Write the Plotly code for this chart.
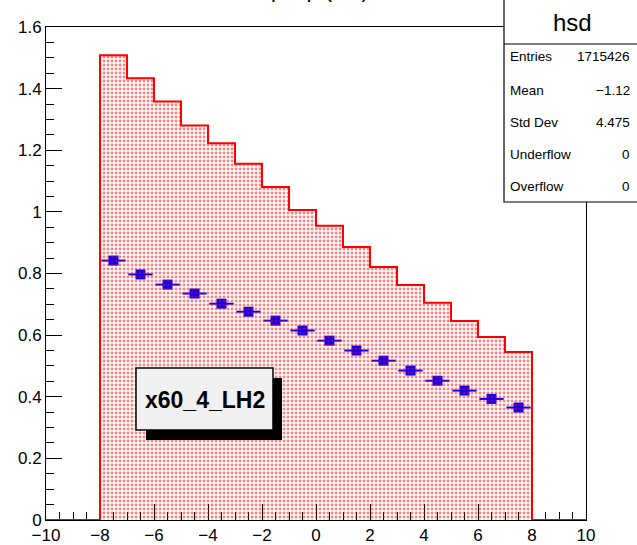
import numpy as np
import plotly.graph_objects as go

# ---- data ----
bin_edges = [-8, -7, -6, -5, -4, -3, -2, -1, 0, 1, 2, 3, 4, 5, 6, 7, 8]
hist_values = [1.508, 1.434, 1.358, 1.280, 1.223, 1.156, 1.081, 1.006,
               0.955, 0.886, 0.821, 0.763, 0.705, 0.646, 0.594, 0.545]
point_values = [0.842, 0.797, 0.764, 0.735, 0.702, 0.676, 0.647, 0.615,
                0.582, 0.550, 0.517, 0.485, 0.452, 0.420, 0.393, 0.365]
x_range = [-10, 10]
y_range = [0, 1.6]
stats_labels = ["Entries", "Mean", "Std Dev", "Underflow", "Overflow"]
stats_values = ["1715426", "\u22121.12", "4.475", "0", "0"]
hist_name = "hsd"
label_text = "x60_4_LH2"
title_text = "p x p (cm)"

# ---- geometry helpers (pixel -> paper) ----
W, H = 637, 545
L, R, T, B = 46, 586, 27, 520
def px(x):
    return (x - L) / (R - L)
def py(y):
    return (B - y) / (B - T)

FONT = "Liberation Sans, Arial, Helvetica, sans-serif"

edges = np.array(bin_edges, dtype=float)
centers = 0.5 * (edges[:-1] + edges[1:])
half = 0.45 * (edges[1:] - edges[:-1])

step_x = [x_range[0]] + list(edges[:-1]) + [edges[-1], x_range[1]]
step_y = [0] + list(hist_values) + [0, 0]

fig = go.Figure()

fig.add_trace(go.Scatter(
    x=centers, y=point_values, mode="markers",
    marker=dict(symbol="square", size=10, color="blue"),
    error_x=dict(type="data", array=half, color="blue", thickness=2, width=0),
    showlegend=False, hoverinfo="skip",
))

fig.add_trace(go.Scatter(
    x=step_x, y=step_y, mode="lines", line=dict(color="red", width=2, shape="hv"),
    fill="tozeroy", fillcolor="rgba(0,0,0,0)",
    fillpattern=dict(shape=".", fgcolor="red", bgcolor="rgba(0,0,0,0)", size=4, solidity=0.38),
    cliponaxis=False, showlegend=False, hoverinfo="skip",
))

shapes = []
# stats box
shapes.append(dict(type="rect", xref="paper", yref="paper",
                   x0=px(504), x1=px(660), y0=py(202), y1=py(-5),
                   fillcolor="white", line=dict(color="black", width=1.2), layer="above"))
shapes.append(dict(type="line", xref="paper", yref="paper",
                   x0=px(504), x1=px(660), y0=py(44), y1=py(44),
                   line=dict(color="black", width=1.2), layer="above"))
# label box shadow + box
shapes.append(dict(type="rect", xref="paper", yref="paper",
                   x0=px(146), x1=px(282), y0=py(440), y1=py(378),
                   fillcolor="black", line=dict(color="black", width=0), layer="above"))
shapes.append(dict(type="rect", xref="paper", yref="paper",
                   x0=px(136), x1=px(273), y0=py(430), y1=py(368),
                   fillcolor="#f0f0f0", line=dict(color="black", width=1.5), layer="above"))

annotations = []
annotations.append(dict(text=title_text, xref="paper", yref="paper", x=px(320), y=py(4),
                        xanchor="center", yanchor="bottom", showarrow=False,
                        font=dict(family=FONT, size=22, color="black")))
annotations.append(dict(text=hist_name, xref="paper", yref="paper", x=px(572), y=py(22),
                        xanchor="center", yanchor="middle", showarrow=False,
                        font=dict(family=FONT, size=24, color="black")))
row_y = [57, 90, 122, 154, 186]
for lab, val, yy in zip(stats_labels, stats_values, row_y):
    annotations.append(dict(text=lab, xref="paper", yref="paper", x=px(508), y=py(yy),
                            xanchor="left", yanchor="middle", showarrow=False,
                            font=dict(family=FONT, size=13.5, color="black")))
    annotations.append(dict(text=val, xref="paper", yref="paper", x=px(632), y=py(yy),
                            xanchor="right", yanchor="middle", showarrow=False,
                            font=dict(family=FONT, size=13.5, color="black")))
annotations.append(dict(text="<b>%s</b>" % label_text, xref="paper", yref="paper",
                        x=px(205), y=py(400), xanchor="center", yanchor="middle",
                        showarrow=False, font=dict(family=FONT, size=23, color="black")))

fig.update_layout(
    width=W, height=H,
    margin=dict(l=L, r=W - R, t=T, b=H - B, autoexpand=False),
    paper_bgcolor="white", plot_bgcolor="white",
    shapes=shapes, annotations=annotations,
    font=dict(family=FONT, size=17, color="black"),
    xaxis=dict(range=x_range, dtick=2, tick0=0, ticks="inside", ticklen=16, tickwidth=1,
               tickcolor="black", showline=True, linecolor="black", linewidth=1, mirror=True,
               showgrid=False, zeroline=False, layer="below traces", automargin=False,
               minor=dict(ticks="inside", dtick=0.5, ticklen=8, tickcolor="black", showgrid=False),
               tickfont=dict(size=17)),
    yaxis=dict(range=y_range, dtick=0.2, tick0=0, ticks="inside", ticklen=16, tickwidth=1,
               tickcolor="black", showline=True, linecolor="black", linewidth=1, mirror=True,
               showgrid=False, zeroline=False, layer="below traces", automargin=False,
               minor=dict(ticks="inside", dtick=0.05, ticklen=8, tickcolor="black", showgrid=False),
               tickfont=dict(size=17), tickformat="~g"),
)

fig.write_html(
    "out.html",
    config={"displayModeBar": False},
    post_script="document.body.style.margin='0';document.body.style.overflow='hidden';",
)
